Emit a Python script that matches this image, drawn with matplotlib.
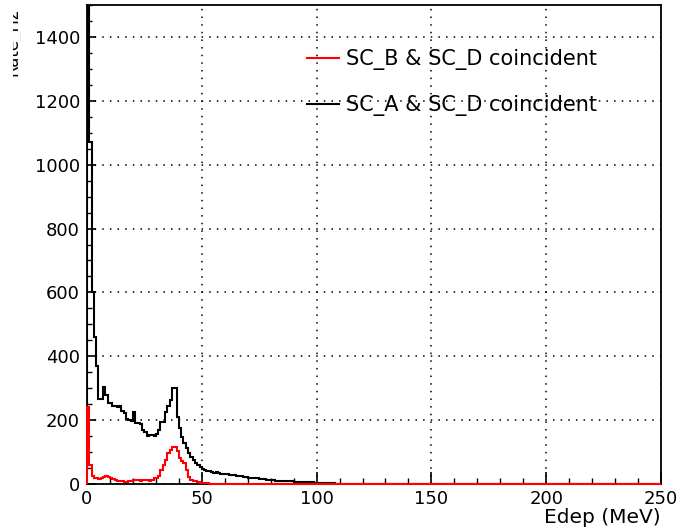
import numpy as np
import matplotlib
matplotlib.use("Agg")
import matplotlib.pyplot as plt
from matplotlib.transforms import Bbox

# ---- data (counts per 1 MeV bin, 0..250 MeV) ----
black_head = [1650, 1070, 600, 460, 370, 265, 265, 305, 280, 255,
              255, 243, 243, 240, 245, 228, 222, 205, 200, 198,
              225, 192, 190, 188, 168, 162, 150, 155, 153, 150,
              158, 170, 195, 195, 227, 245, 262, 300, 300, 211,
              176, 148, 127, 113, 97, 85, 75, 66, 60, 54,
              48, 45, 40, 42, 38, 36, 38, 34, 32, 30,
              32, 30, 28, 27, 28, 25, 25, 24, 22, 23,
              20, 20, 19, 18, 18, 17, 16, 15, 14, 12,
              11, 11, 10, 10, 9, 9, 9, 8, 8, 8,
              7, 7, 6, 6, 6, 5, 5, 5, 5, 4,
              4, 3, 3, 3, 2, 2, 2, 2, 1, 1,
              1, 1, 0, 1, 0, 0, 1, 0, 0, 0]
red_head = [240, 60, 25, 20, 18, 17, 20, 22, 25, 22,
            18, 15, 12, 10, 9, 8, 7, 7, 8, 10,
            12, 14, 12, 10, 12, 14, 12, 10, 13, 18,
            20, 25, 44, 60, 75, 97, 107, 116, 116, 104,
            82, 72, 66, 44, 23, 13, 10, 8, 5, 4,
            3, 2, 2, 1, 1, 1, 0, 0, 0, 0]
n_bins = 250
black_counts = black_head + [0] * (n_bins - len(black_head))
red_counts = red_head + [0] * (n_bins - len(red_head))
bin_edges = np.arange(n_bins + 1)

labels = ["SC_B & SC_D coincident", "SC_A & SC_D coincident"]
xlabel = "Edep (MeV)"
ylabel = "Rate_Hz"

# ---- figure ----
W, H = 681, 529
fig = plt.figure(figsize=(W / 100, H / 100), dpi=100)
ax = fig.add_axes([87 / W, 1 - 484 / H, (661 - 87) / W, (484 - 5) / H])

ax.stairs(black_counts, bin_edges, color="black", lw=1.5, zorder=3, label=labels[1])
red_art = ax.stairs(red_counts, bin_edges, color="#ff0000", lw=1.5, zorder=4, label=labels[0])
red_art.set_clip_on(False)

ax.set_xlim(0, 250)
ax.set_ylim(0, 1500)
ax.set_xticks(np.arange(0, 251, 50))
ax.set_xticks(np.arange(0, 251, 10), minor=True)
ax.set_yticks(np.arange(0, 1401, 200))
ax.set_yticks(np.arange(0, 1501, 50), minor=True)

ax.grid(True, which="major", color="black", linestyle=(0, (1, 4)), lw=1.1, zorder=1)

ax.tick_params(axis="x", which="major", direction="in", length=9, width=1.2,
               labelsize=13, pad=4, top=False)
ax.tick_params(axis="x", which="minor", direction="in", length=4.5, width=1.0, top=False)
ax.tick_params(axis="y", which="major", direction="in", length=6.5, width=1.2,
               labelsize=13, pad=5, right=False)
ax.tick_params(axis="y", which="minor", direction="in", length=3.5, width=1.0, right=False)
for s in ax.spines.values():
    s.set_linewidth(1.3)

ax.set_xlabel(xlabel, fontsize=14.5, loc="right")
ax.xaxis.set_label_coords(1.0, -24 / 479)

# legend (no frame), red first
h, l = ax.get_legend_handles_labels()
order = [1, 0]
leg = ax.legend([h[i] for i in order], [l[i] for i in order],
                loc="upper left", bbox_to_anchor=((307 - 87) / 574, 1 - (49 - 5) / 479),
                frameon=False, fontsize=15, handlelength=1.55, handletextpad=0.33,
                labelspacing=1.2, borderpad=0, borderaxespad=0)
for line in leg.get_lines():
    line.set_linewidth(1.5)

# clipped y label at the left edge
t = fig.text(21 / W, 1 - 8 / H, ylabel, rotation=90, ha="right", va="top", fontsize=12)
t.set_clip_box(Bbox([[13, 0], [21, H]]))
t.set_clip_on(True)

fig.savefig("out.png", dpi=100, facecolor="white")
